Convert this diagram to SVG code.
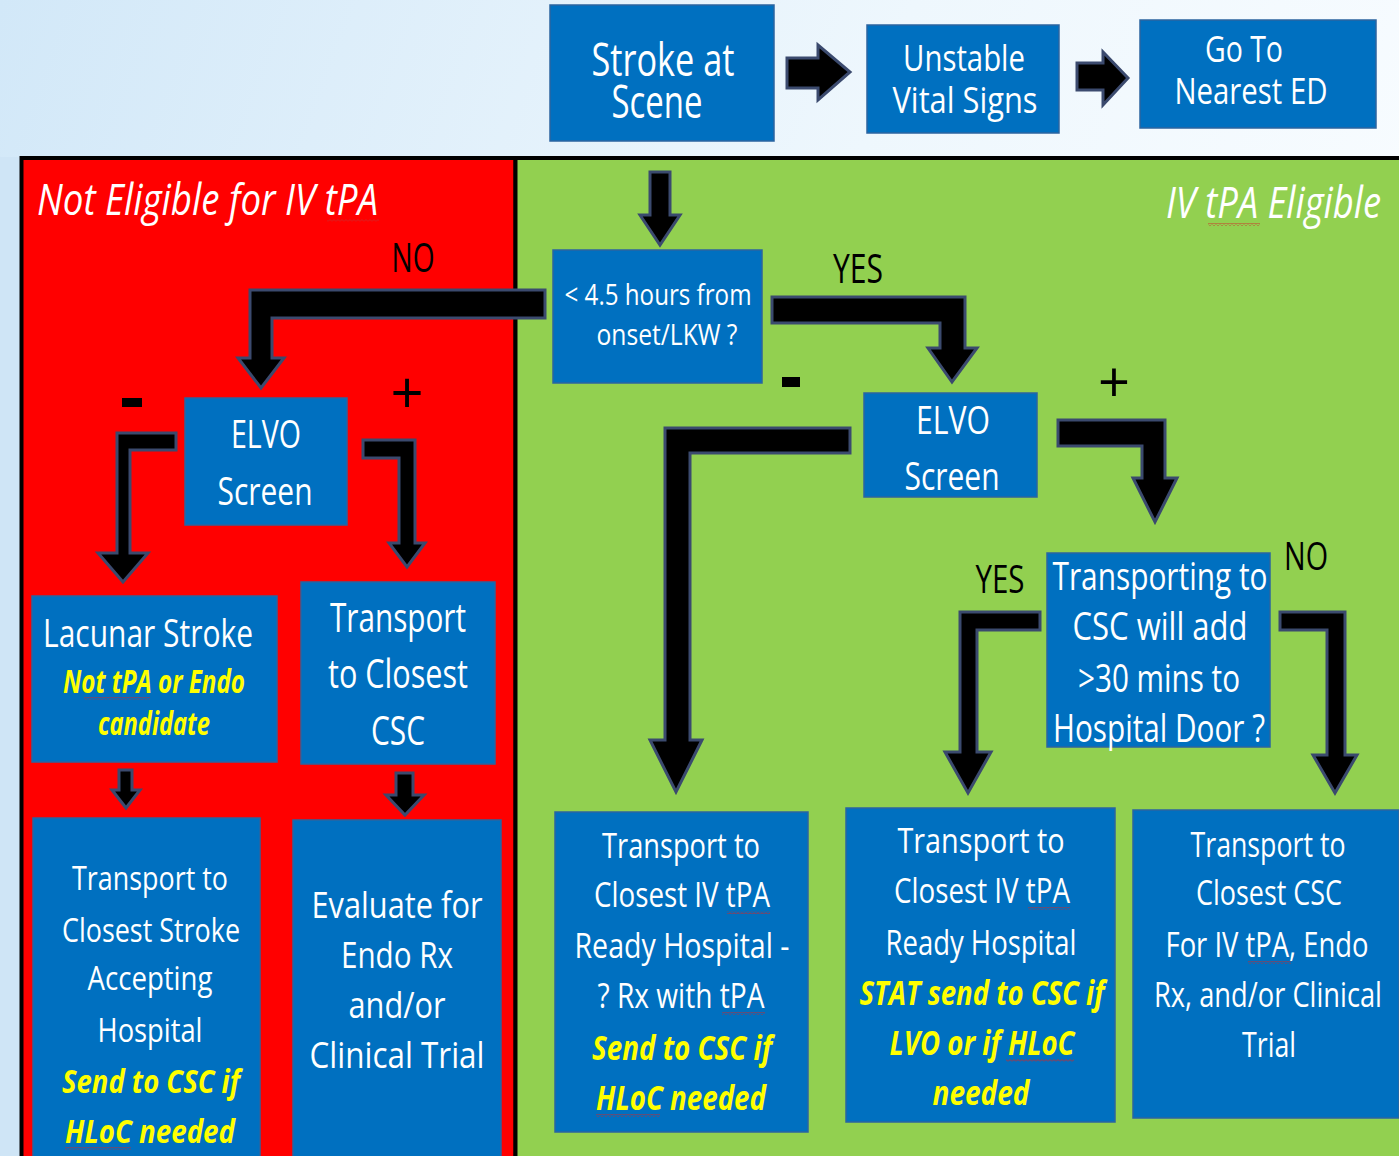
<svg xmlns="http://www.w3.org/2000/svg" width="1399" height="1156" viewBox="0 0 1399 1156">
<defs>
<linearGradient id="bg" x1="0" y1="0" x2="1" y2="0.3">
<stop offset="0" stop-color="#d2e8f8"/>
<stop offset="0.6" stop-color="#eef7fd"/>
<stop offset="1" stop-color="#f8fcff"/>
</linearGradient>
<pattern id="wavy" width="4" height="3" patternUnits="userSpaceOnUse">
<path d="M0,2.5 L2,0.5 L4,2.5" fill="none" stroke="#d02828" stroke-width="0.9"/>
</pattern>
</defs>
<style>
.box{fill:#0070c0;stroke:#2b64a0;stroke-width:1.5}
.t{font-family:"Open Sans","Noto Sans",sans-serif;fill:#ffffff;text-anchor:middle}
.y{fill:#ffff00;font-weight:bold;font-style:italic}
.lbl{font-family:"Open Sans","Noto Sans",sans-serif;fill:#000000;text-anchor:middle}
.ttl{font-family:"Open Sans","Noto Sans",sans-serif;fill:#ffffff;font-style:italic}
.arr{fill:#000000;stroke:#3b4a6e;stroke-width:3;stroke-linejoin:miter}
.wv{fill:url(#wavy)}
</style>
<rect x="0" y="0" width="1399" height="1156" fill="url(#bg)"/>
<rect x="0" y="157" width="22" height="999" fill="#cfe5f6"/>
<g id="panels">
<rect x="21.5" y="158" width="494" height="1000" fill="#ff0000" stroke="#000" stroke-width="4"/>
<rect x="515.5" y="158" width="886" height="1000" fill="#92d050" stroke="#000" stroke-width="4"/>
<text class="ttl" x="37" y="215" font-size="44" textLength="341" lengthAdjust="spacingAndGlyphs">Not Eligible for IV tPA</text>
<text class="ttl" x="1166" y="218" font-size="44" textLength="215" lengthAdjust="spacingAndGlyphs">IV tPA Eligible</text>
<rect class="wv" x="327" y="219" width="52" height="3"/>
<rect class="wv" x="1208" y="223" width="52" height="3"/>
</g>
<g id="connectors">
<polygon class="arr" points="787,58 818,58 818,45 850,72 818,100 818,88 787,88"/>
<polygon class="arr" points="1077,63 1103,63 1103,52 1128,78 1103,105 1103,90 1077,90"/>
<polygon class="arr" points="650,172 670,172 670,215 680,215 660,245 640,215 650,215"/>
<polygon class="arr" points="545,290 250,290 250,358 238,358 261,388 284,358 272,358 272,318 545,318"/>
<polygon class="arr" points="772,297 965,297 965,348 977,348 952,382 928,348 940,348 940,323 772,323"/>
<polygon class="arr" points="176,433 117,433 117,553 98,553 123,582 148,553 130,553 130,450 176,450"/>
<polygon class="arr" points="363,440 415,440 415,543 425,543 407,567 389,543 399,543 399,458 363,458"/>
<polygon class="arr" points="850,428 665,428 665,740 650,740 676,792 702,740 690,740 690,453 850,453"/>
<polygon class="arr" points="1058,420 1165,420 1165,478 1177,478 1155,522 1133,478 1142,478 1142,446 1058,446"/>
<polygon class="arr" points="1040,612 960,612 960,752 945,752 968,793 991,752 977,752 977,630 1040,630"/>
<polygon class="arr" points="1280,612 1345,612 1345,755 1357,755 1335,793 1313,755 1327,755 1327,630 1280,630"/>
<polygon class="arr" points="119,770 132,770 132,790 140,790 126,808 112,790 119,790"/>
<polygon class="arr" points="396,773 413,773 413,795 424,795 405,815 386,795 396,795"/>
<text class="lbl" x="413" y="272" font-size="40" textLength="43" lengthAdjust="spacingAndGlyphs">NO</text>
<text class="lbl" x="858" y="283" font-size="40" textLength="50" lengthAdjust="spacingAndGlyphs">YES</text>
<text class="lbl" x="1000" y="593" font-size="38" textLength="49" lengthAdjust="spacingAndGlyphs">YES</text>
<text class="lbl" x="1306" y="570" font-size="38" textLength="44" lengthAdjust="spacingAndGlyphs">NO</text>
<rect x="122" y="398" width="20" height="9" fill="#000"/>
<rect x="782" y="377" width="18" height="10" fill="#000"/>
<text class="lbl" x="407" y="414" font-size="58">+</text>
<text class="lbl" x="1114" y="402" font-size="56">+</text>
</g>
<g id="stroke-scene">
<rect class="box" x="550" y="5" width="224" height="136"/>
<text class="t" x="663" y="76" font-size="45" textLength="143" lengthAdjust="spacingAndGlyphs">Stroke at</text>
<text class="t" x="657" y="118" font-size="45" textLength="91" lengthAdjust="spacingAndGlyphs">Scene</text>
</g>
<g id="unstable">
<rect class="box" x="867" y="25" width="192" height="108"/>
<text class="t" x="964" y="71" font-size="37" textLength="122" lengthAdjust="spacingAndGlyphs">Unstable</text>
<text class="t" x="965" y="113" font-size="37" textLength="145" lengthAdjust="spacingAndGlyphs">Vital Signs</text>
</g>
<g id="nearest-ed">
<rect class="box" x="1140" y="20" width="236" height="108"/>
<text class="t" x="1244" y="62" font-size="37" textLength="78" lengthAdjust="spacingAndGlyphs">Go To</text>
<text class="t" x="1251" y="104" font-size="37" textLength="153" lengthAdjust="spacingAndGlyphs">Nearest ED</text>
</g>
<g id="onset">
<rect class="box" x="553" y="250" width="209" height="133"/>
<text class="t" x="658" y="305" font-size="29" textLength="187" lengthAdjust="spacingAndGlyphs">&lt; 4.5 hours from</text>
<text class="t" x="667" y="345" font-size="29" textLength="141" lengthAdjust="spacingAndGlyphs">onset/LKW ?</text>
</g>
<g id="elvo-red">
<rect class="box" x="185" y="398" width="162" height="127"/>
<text class="t" x="266" y="448" font-size="38" textLength="70" lengthAdjust="spacingAndGlyphs">ELVO</text>
<text class="t" x="265" y="505" font-size="38" textLength="95" lengthAdjust="spacingAndGlyphs">Screen</text>
</g>
<g id="elvo-green">
<rect class="box" x="864" y="393" width="173" height="104"/>
<text class="t" x="953" y="434" font-size="38" textLength="74" lengthAdjust="spacingAndGlyphs">ELVO</text>
<text class="t" x="952" y="490" font-size="38" textLength="95" lengthAdjust="spacingAndGlyphs">Screen</text>
</g>
<g id="transporting">
<rect class="box" x="1047" y="553" width="223" height="194"/>
<text class="t" x="1160" y="590" font-size="38" textLength="215" lengthAdjust="spacingAndGlyphs">Transporting to</text>
<text class="t" x="1160" y="640" font-size="38" textLength="175" lengthAdjust="spacingAndGlyphs">CSC will add</text>
<text class="t" x="1159" y="692" font-size="38" textLength="162" lengthAdjust="spacingAndGlyphs">&gt;30 mins to</text>
<text class="t" x="1159" y="742" font-size="38" textLength="212" lengthAdjust="spacingAndGlyphs">Hospital Door ?</text>
</g>
<g id="lacunar">
<rect class="box" x="32" y="596" width="245" height="166"/>
<text class="t" x="148" y="647" font-size="38" textLength="210" lengthAdjust="spacingAndGlyphs">Lacunar Stroke</text>
<text class="t y" x="154" y="693" font-size="32" textLength="182" lengthAdjust="spacingAndGlyphs">Not tPA or Endo</text>
<text class="t y" x="154" y="735" font-size="32" textLength="112" lengthAdjust="spacingAndGlyphs">candidate</text>
<rect class="wv" x="84" y="697" width="66" height="3"/>
</g>
<g id="closest-csc-red">
<rect class="box" x="301" y="582" width="194" height="182"/>
<text class="t" x="398" y="632" font-size="40" textLength="136" lengthAdjust="spacingAndGlyphs">Transport</text>
<text class="t" x="398" y="688" font-size="40" textLength="140" lengthAdjust="spacingAndGlyphs">to Closest</text>
<text class="t" x="398" y="745" font-size="40" textLength="54" lengthAdjust="spacingAndGlyphs">CSC</text>
</g>
<g id="stroke-accepting">
<rect class="box" x="33" y="818" width="227" height="345"/>
<text class="t" x="150" y="890" font-size="33" textLength="156" lengthAdjust="spacingAndGlyphs">Transport to</text>
<text class="t" x="151" y="942" font-size="33" textLength="178" lengthAdjust="spacingAndGlyphs">Closest Stroke</text>
<text class="t" x="150" y="990" font-size="33" textLength="125" lengthAdjust="spacingAndGlyphs">Accepting</text>
<text class="t" x="150" y="1042" font-size="33" textLength="105" lengthAdjust="spacingAndGlyphs">Hospital</text>
<text class="t y" x="151" y="1093" font-size="33" textLength="178" lengthAdjust="spacingAndGlyphs">Send to CSC if</text>
<text class="t y" x="150" y="1143" font-size="33" textLength="170" lengthAdjust="spacingAndGlyphs">HLoC needed</text>
<rect class="wv" x="65" y="1147" width="66" height="3"/>
</g>
<g id="evaluate-endo">
<rect class="box" x="293" y="820" width="208" height="343"/>
<text class="t" x="397" y="918" font-size="36" textLength="171" lengthAdjust="spacingAndGlyphs">Evaluate for</text>
<text class="t" x="397" y="968" font-size="36" textLength="112" lengthAdjust="spacingAndGlyphs">Endo Rx</text>
<text class="t" x="397" y="1018" font-size="36" textLength="97" lengthAdjust="spacingAndGlyphs">and/or</text>
<text class="t" x="397" y="1068" font-size="36" textLength="175" lengthAdjust="spacingAndGlyphs">Clinical Trial</text>
</g>
<g id="tpa-ready-1">
<rect class="box" x="555" y="812" width="253" height="320"/>
<text class="t" x="681" y="858" font-size="34" textLength="158" lengthAdjust="spacingAndGlyphs">Transport to</text>
<text class="t" x="682" y="907" font-size="34" textLength="176" lengthAdjust="spacingAndGlyphs">Closest IV tPA</text>
<text class="t" x="682" y="958" font-size="34" textLength="215" lengthAdjust="spacingAndGlyphs">Ready Hospital  -</text>
<text class="t" x="681" y="1008" font-size="34" textLength="167" lengthAdjust="spacingAndGlyphs">? Rx with tPA</text>
<text class="t y" x="682" y="1060" font-size="34" textLength="180" lengthAdjust="spacingAndGlyphs">Send to CSC if</text>
<text class="t y" x="681" y="1110" font-size="34" textLength="170" lengthAdjust="spacingAndGlyphs">HLoC needed</text>
<rect class="wv" x="727" y="911" width="43" height="3"/>
<rect class="wv" x="722" y="1012" width="43" height="3"/>
<rect class="wv" x="596" y="1114" width="64" height="3"/>
</g>
<g id="tpa-ready-2">
<rect class="box" x="846" y="808" width="269" height="314"/>
<text class="t" x="981" y="853" font-size="34" textLength="167" lengthAdjust="spacingAndGlyphs">Transport to</text>
<text class="t" x="982" y="903" font-size="34" textLength="176" lengthAdjust="spacingAndGlyphs">Closest IV tPA</text>
<text class="t" x="981" y="955" font-size="34" textLength="191" lengthAdjust="spacingAndGlyphs">Ready Hospital</text>
<text class="t y" x="982" y="1005" font-size="34" textLength="245" lengthAdjust="spacingAndGlyphs">STAT send to CSC if</text>
<text class="t y" x="982" y="1055" font-size="34" textLength="185" lengthAdjust="spacingAndGlyphs">LVO or if HLoC</text>
<text class="t y" x="981" y="1105" font-size="34" textLength="97" lengthAdjust="spacingAndGlyphs">needed</text>
<rect class="wv" x="1028" y="907" width="42" height="3"/>
<rect class="wv" x="1006" y="1059" width="68" height="3"/>
</g>
<g id="closest-csc-green">
<rect class="box" x="1133" y="810" width="266" height="308"/>
<text class="t" x="1268" y="857" font-size="34" textLength="155" lengthAdjust="spacingAndGlyphs">Transport to</text>
<text class="t" x="1269" y="905" font-size="34" textLength="146" lengthAdjust="spacingAndGlyphs">Closest CSC</text>
<text class="t" x="1267" y="957" font-size="34" textLength="203" lengthAdjust="spacingAndGlyphs">For IV tPA, Endo</text>
<text class="t" x="1268" y="1007" font-size="34" textLength="228" lengthAdjust="spacingAndGlyphs">Rx, and/or Clinical</text>
<text class="t" x="1269" y="1057" font-size="34" textLength="54" lengthAdjust="spacingAndGlyphs">Trial</text>
<rect class="wv" x="1248" y="961" width="43" height="3"/>
</g>
</svg>
